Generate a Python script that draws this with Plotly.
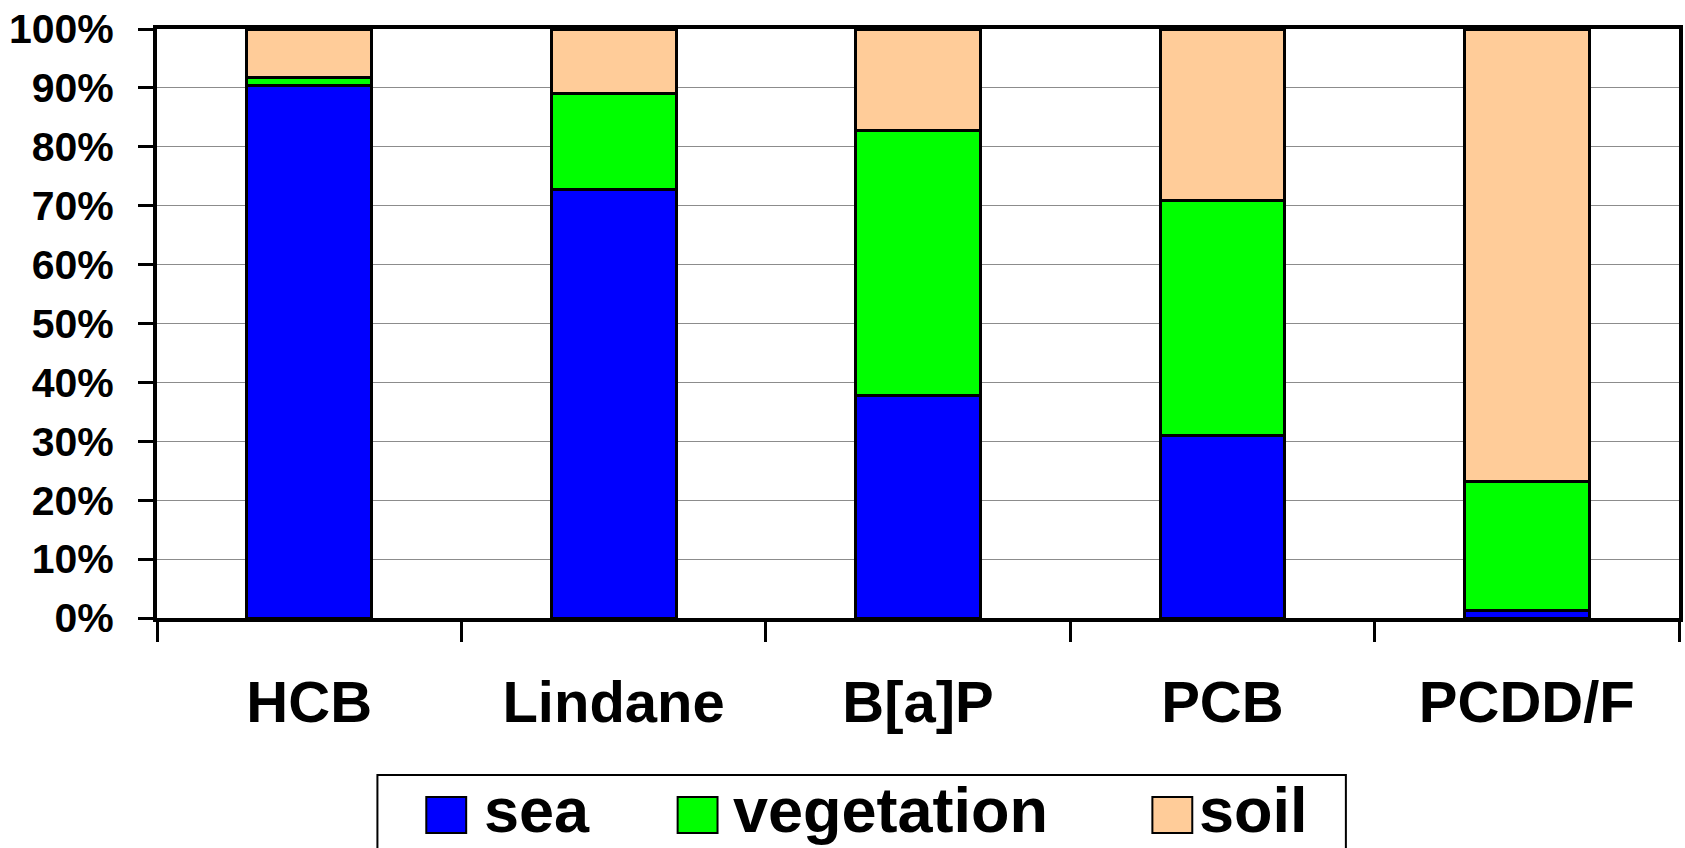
import plotly.graph_objects as go

# Share of deposition by receiving medium (percent)
compounds = ["HCB", "Lindane", "B[a]P", "PCB", "PCDD/F"]
series_names = ["sea", "vegetation", "soil"]
sea = [90.4, 72.8, 37.7, 31.0, 1.2]
vegetation = [1.4, 16.3, 45.0, 39.9, 22.0]
soil = [8.2, 10.9, 17.3, 29.1, 76.8]
y_ticks = list(range(0, 101, 10))

colors = ["#0000FF", "#00FF00", "#FFCC99"]
FONT = "Liberation Sans, Arial, sans-serif"

fig = go.Figure()
for name, vals, col in zip(series_names, [sea, vegetation, soil], colors):
    fig.add_trace(go.Bar(
        x=compounds, y=vals, name=name,
        marker=dict(color=col, line=dict(color="black", width=3)),
        showlegend=False,
    ))

fig.update_layout(
    barmode="stack",
    bargap=0.59,
    width=1685, height=848,
    margin=dict(l=157, r=2, t=29, b=230),
    paper_bgcolor="white",
    plot_bgcolor="white",
    font=dict(family=FONT, color="black", weight="bold"),
)

fig.update_yaxes(
    range=[0, 100],
    tickvals=y_ticks,
    ticktext=[f"{v}%" for v in y_ticks],
    tickfont=dict(size=41, family=FONT, weight="bold"),
    ticks="outside", ticklen=15, tickwidth=3, tickcolor="black",
    ticklabelstandoff=16,
    showgrid=True, gridcolor="#8c8c8c", gridwidth=1,
    showline=True, linecolor="black", linewidth=4, mirror=True,
    zeroline=False,
)
fig.update_xaxes(
    tickfont=dict(size=58, family=FONT, weight="bold"),
    ticks="outside", ticklen=20, tickwidth=3, tickcolor="black",
    tickson="boundaries",
    ticklabelstandoff=30,
    showline=True, linecolor="black", linewidth=4, mirror=True,
    showgrid=False,
)

# Legend drawn as a framed row of large swatches and labels below the axis
plot_left, plot_w = 157, 1526
plot_bottom, plot_h = 618, 589


def px_x(px):
    return (px - plot_left) / plot_w


def px_y(py):
    return (plot_bottom - py) / plot_h


fig.add_shape(type="rect", xref="paper", yref="paper",
              x0=px_x(378), x1=px_x(1349), y0=px_y(775), y1=px_y(870),
              line=dict(color="black", width=2), fillcolor="white")

swatch_x = [427, 679, 1155]
text_x = [484, 734, 1201]
for name, col, sx, tx in zip(series_names, colors, swatch_x, text_x):
    fig.add_shape(type="rect", xref="paper", yref="paper",
                  x0=px_x(sx), x1=px_x(sx + 40), y0=px_y(797), y1=px_y(833),
                  line=dict(color="black", width=2), fillcolor=col)
    fig.add_annotation(xref="paper", yref="paper", x=px_x(tx), y=px_y(810),
                       xanchor="left", yanchor="middle", showarrow=False,
                       borderpad=0,
                       text=name,
                       font=dict(size=63, family=FONT, weight="bold", color="black"))

fig.write_html("out.html")
